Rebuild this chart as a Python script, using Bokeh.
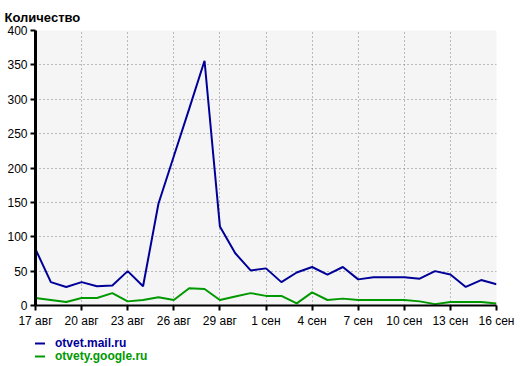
from bokeh.plotting import figure
from bokeh.layouts import column
from bokeh.models import Legend, LegendItem, FixedTicker, Range1d
from bokeh.embed import file_html
from bokeh.resources import INLINE

# Days from 17 Aug to 16 Sep
date_labels = [f"{d} авг" for d in range(17, 32)] + [f"{d} сен" for d in range(1, 17)]
day_index = list(range(len(date_labels)))
tick_every = 3

mail = [82, 34, 27, 34, 28, 29, 50, 28, 148, 217, 286, 356, 115, 76, 51,
        54, 34, 48, 56, 45, 56, 38, 41, 41, 41, 39, 50, 45, 27, 37, 31]
google = [11, 8, 5, 11, 11, 18, 6, 8, 12, 8, 25, 24, 8, 13, 18,
          14, 14, 3, 19, 8, 10, 8, 8, 8, 8, 6, 2, 5, 5, 5, 3]

y_ticks = [0, 50, 100, 150, 200, 250, 300, 350, 400]
series_names = ["otvet.mail.ru", "otvety.google.ru"]

FONT = "Liberation Sans"
BLUE = "#000099"
GREEN = "#009900"

p = figure(frame_width=461, frame_height=275, output_backend="svg", toolbar_location=None,
           x_range=Range1d(0, len(date_labels) - 1), y_range=Range1d(0, 400),
           min_border_left=35, min_border_right=24, min_border_top=30, min_border_bottom=0)

p.title.text = "Количество"
p.title.text_font = FONT
p.title.text_font_size = "13px"
p.title.text_font_style = "bold"
p.title.text_color = "black"
p.title.align = "left"
p.title.offset = -31
p.title.standoff = 12

p.background_fill_color = "#f5f5f5"
p.border_fill_color = "white"
p.outline_line_color = None

xt = day_index[::tick_every]
p.xaxis.ticker = FixedTicker(ticks=xt)
p.xaxis.major_label_overrides = {i: date_labels[i] for i in xt}
p.yaxis.ticker = FixedTicker(ticks=y_ticks)

for ax in (p.xaxis, p.yaxis):
    ax.axis_line_color = "black"
    ax.major_tick_line_color = "black"
    ax.minor_tick_line_color = None
    ax.major_tick_in = 0
    ax.major_tick_out = 5
    ax.major_label_text_font = FONT
    ax.major_label_text_font_size = "12px"
    ax.major_label_text_color = "black"
    ax.major_label_standoff = 3
p.yaxis.axis_line_width = 3
p.xaxis.axis_line_width = 2
p.yaxis.major_tick_line_width = 2
p.xaxis.major_tick_line_width = 2

p.grid.grid_line_color = "#808080"
p.grid.grid_line_dash = "1 3"
p.grid.grid_line_width = 1

p.line(day_index, mail, line_color=BLUE, line_width=2)
p.line(day_index, google, line_color=GREEN, line_width=2)

# Legend strip below the chart (its ranges keep the key lines' data out of view)
p2 = figure(width=520, height=36, output_backend="svg", toolbar_location=None,
            x_axis_type=None, y_axis_type=None, min_border=0,
            x_range=Range1d(-100, -99), y_range=Range1d(-100, -99))
p2.outline_line_color = None
p2.grid.visible = False
p2.background_fill_color = "white"
p2.border_fill_color = "white"

k1 = p2.line(day_index, mail, line_color=BLUE, line_width=2)
k2 = p2.line(day_index, google, line_color=GREEN, line_width=2)

for r, lab, col, loc in [(k1, series_names[0], BLUE, (-20, 16)), (k2, series_names[1], GREEN, (-20, 3))]:
    lg = Legend(items=[LegendItem(label=lab, renderers=[r])], location=loc,
                orientation="vertical", border_line_color=None, background_fill_alpha=0,
                label_text_color=col, label_text_font=FONT, label_text_font_size="12px",
                label_text_font_style="bold", glyph_width=30, glyph_height=12,
                label_height=12, label_standoff=10, padding=0, margin=0, spacing=0)
    p2.add_layout(lg, "center")

open("out.html", "w").write(file_html(column(p, p2, spacing=0), INLINE))
